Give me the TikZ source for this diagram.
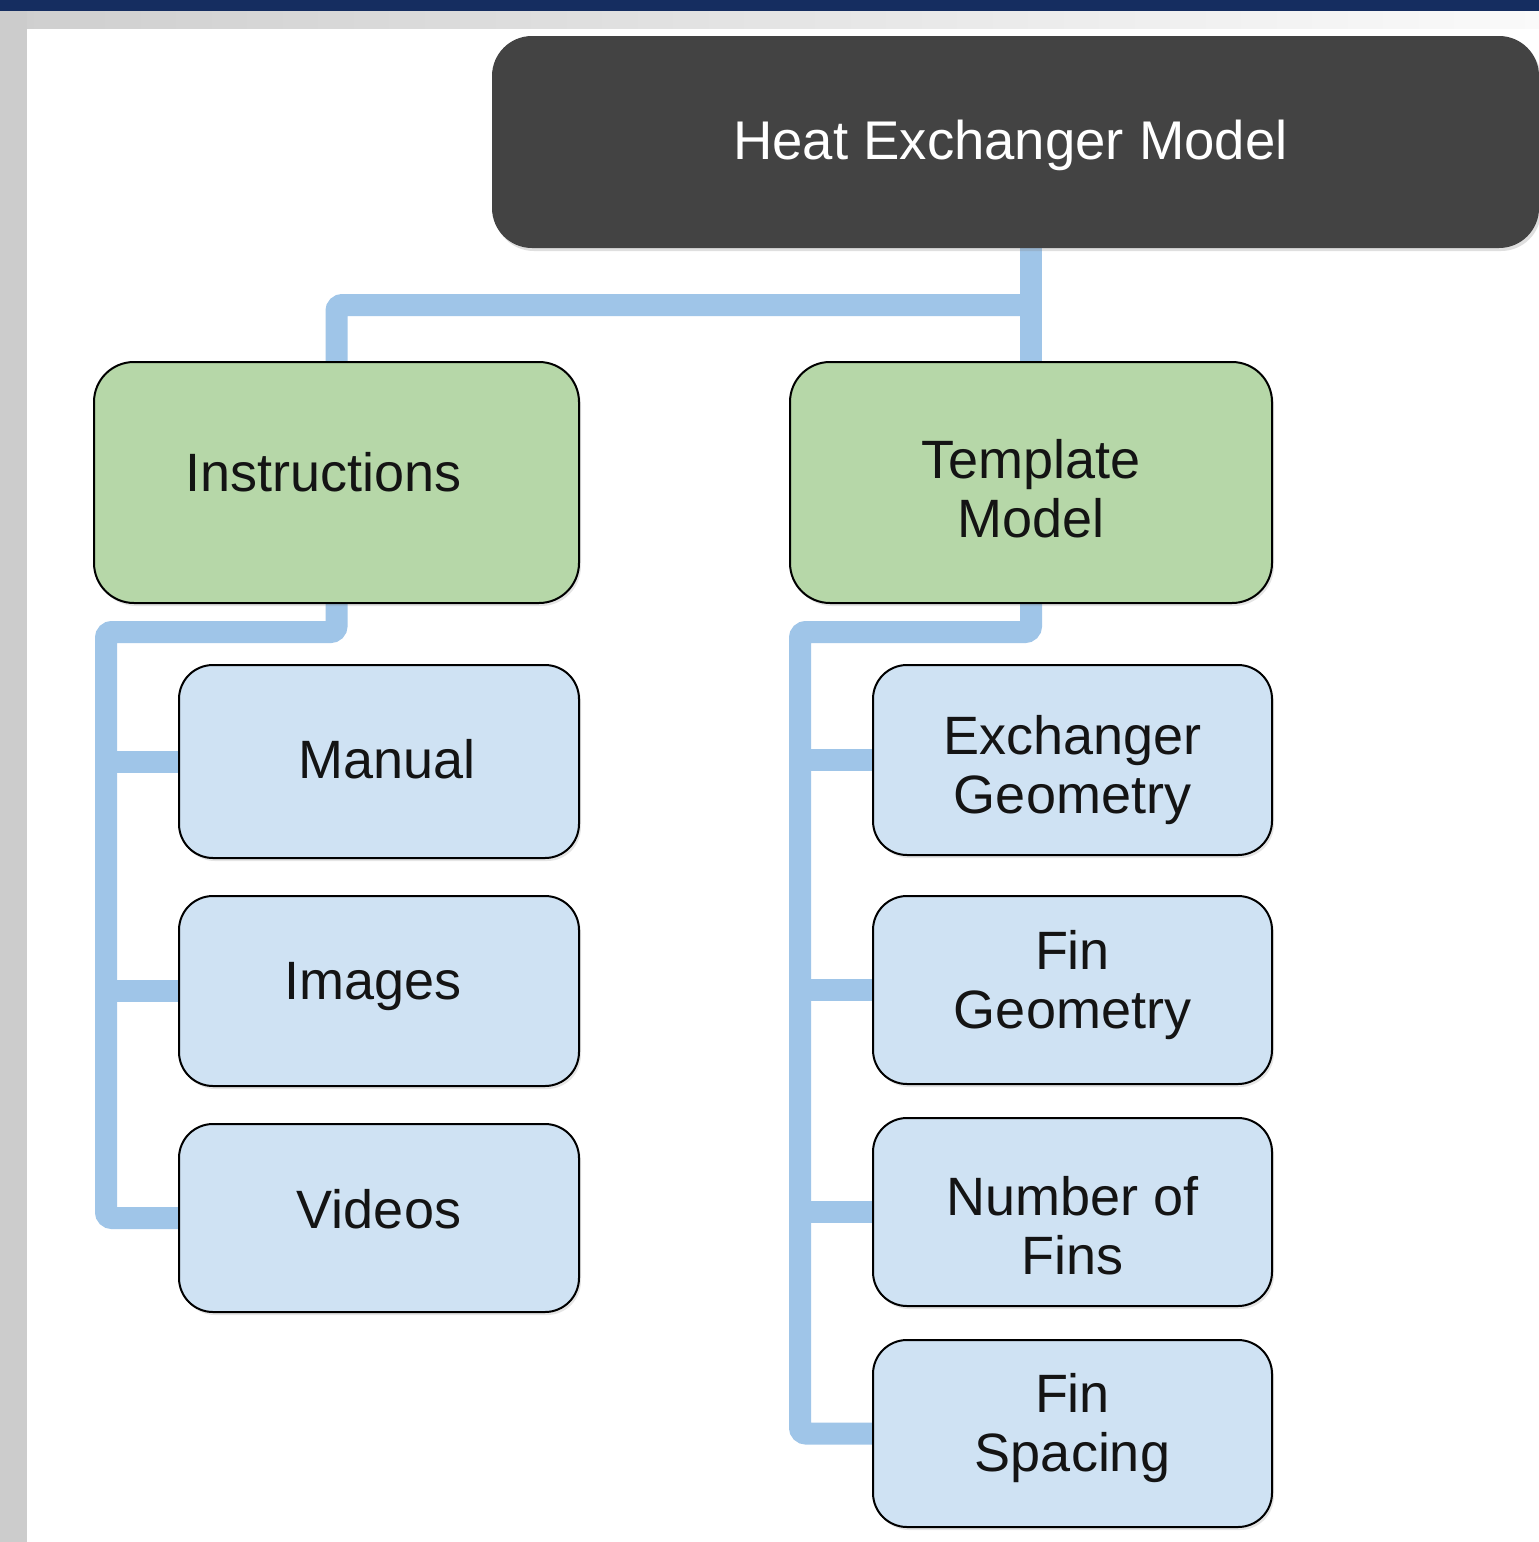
\documentclass[tikz,border=0pt]{standalone}
\usepackage{fontspec}
\setmainfont{Liberation Sans}
\usetikzlibrary{shadows,calc}
\definecolor{navy}{HTML}{152D60}
\definecolor{stripgray}{HTML}{CCCCCC}
\definecolor{darkbox}{HTML}{434343}
\definecolor{greenbox}{HTML}{B6D7A8}
\definecolor{bluebox}{HTML}{CFE2F3}
\definecolor{connblue}{HTML}{9FC5E8}
\pgfdeclarelayer{bottom}
\pgfdeclarelayer{links}
\pgfsetlayers{bottom,links,main}
\tikzset{
  lbl/.style={font=\fontsize{54}{59}\selectfont, align=center, text=black!92},
  topbox/.style={rectangle, rounded corners=40pt, fill=darkbox,
    drop shadow={opacity=0.25, shadow xshift=2pt, shadow yshift=-3pt}},
  groupbox/.style={rectangle, rounded corners=40pt, draw=black, line width=2pt, fill=greenbox,
    drop shadow={opacity=0.2, shadow xshift=2pt, shadow yshift=-3pt}},
  leafbox/.style={rectangle, rounded corners=34pt, draw=black, line width=2pt, fill=bluebox,
    minimum width=400pt, drop shadow={opacity=0.2, shadow xshift=2pt, shadow yshift=-3pt}},
  txt/.style n args={3}{label={[lbl, xshift=#1, yshift=#2]center:{#3}}},
  conn/.style={draw=connblue, line width=22pt, rounded corners=6pt}
}
\begin{document}
\begin{tikzpicture}[x=1pt,y=-1pt]
\useasboundingbox (0,0) rectangle (1539,1542);
\begin{pgfonlayer}{bottom}
  \fill[white] (0,0) rectangle (1539,1542);
  \shade[left color=stripgray!95!white, right color=white!98!black] (0,11) rectangle (1539,28);
  \fill[stripgray] (0,11) rectangle (27,1542);
  \fill[navy] (0,0) rectangle (1539,11);
\end{pgfonlayer}

% nodes
\node[topbox, minimum width=1047pt, minimum height=212pt,
  label={[font=\fontsize{54.5}{60}\selectfont, text=white, xshift=-5pt, yshift=-3pt]center:Heat Exchanger Model}]
  (hem) at (1015.5,142) {};
\node[groupbox, minimum width=485pt, minimum height=241pt, txt={-13pt}{10pt}{Instructions}] (ins) at (336.5,482.5) {};
\node[groupbox, minimum width=482pt, minimum height=241pt, txt={0pt}{-6pt}{Template\\Model}] (tm) at (1031,482.5) {};

\node[leafbox, minimum height=193pt, txt={8pt}{2pt}{Manual}] (man) at (379,761.5) {};
\node[leafbox, minimum height=190pt, txt={-6pt}{4pt}{Images}] (img) at (379,991) {};
\node[leafbox, minimum height=188pt, txt={0pt}{9pt}{Videos}] (vid) at (379,1218) {};

\node[leafbox, minimum width=399pt, minimum height=190pt, txt={0pt}{-10pt}{Exchanger\\Geometry}] (exg) at (1072.5,760) {};
\node[leafbox, minimum width=399pt, minimum height=188pt, txt={0pt}{5pt}{Fin\\Geometry}] (fig) at (1072.5,990) {};
\node[leafbox, minimum width=399pt, minimum height=188pt, txt={0pt}{-14pt}{Number of\\Fins}] (nof) at (1072.5,1212) {};
\node[leafbox, minimum width=399pt, minimum height=187pt, txt={0pt}{5pt}{Fin\\Spacing}] (fsp) at (1072.5,1433.5) {};

\coordinate (bus) at (0,305);
\coordinate (lbus) at (106,632);
\coordinate (rbus) at (800,632);

\begin{pgfonlayer}{links}
  \draw[conn] (tm.north) -- (tm.north |- hem.south);
  \draw[conn] (ins.north) |- (bus -| tm.north);
  \draw[conn] (ins.south) |- (lbus) |- (vid.west);
  \draw[conn] (lbus |- man.west) -- (man.west);
  \draw[conn] (lbus |- img.west) -- (img.west);
  \draw[conn] (tm.south) |- (rbus) |- (fsp.west);
  \draw[conn] (rbus |- exg.west) -- (exg.west);
  \draw[conn] (rbus |- fig.west) -- (fig.west);
  \draw[conn] (rbus |- nof.west) -- (nof.west);
\end{pgfonlayer}
\end{tikzpicture}
\end{document}
